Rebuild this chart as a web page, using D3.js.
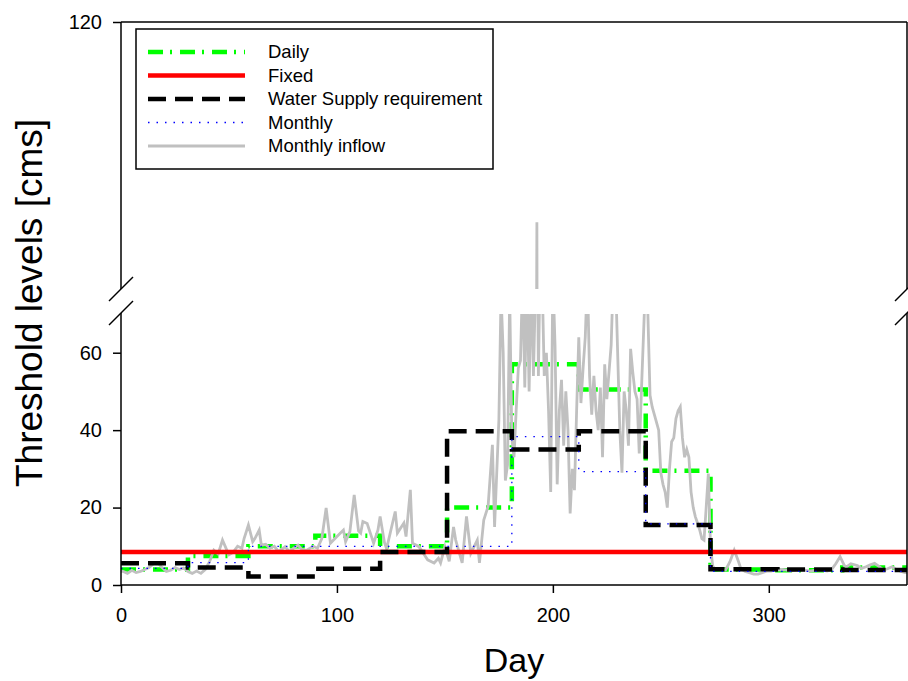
<!DOCTYPE html>
<html>
<head>
<meta charset="utf-8">
<script src="https://cdn.jsdelivr.net/npm/d3@7"></script>
<style>
  body { margin: 0; background: #fff; }
  svg { display: block; font-family: "Liberation Sans", Arial, sans-serif; }
</style>
</head>
<body>
<script>
const w = 908;
const h = 681;

// month boundaries (day of year) used by the step series
const monthStart = [0, 31, 59, 90, 120, 151, 181, 212, 243, 273, 304, 334];
const dailyLevel = [4, 7.5, 10, 12.7, 10, 20, 57, 50.5, 29.5, 4, 3.8, 4.5];
const monthlyLevel = [4.3, 5.8, 10, 10, 10, 10, 38.3, 29.3, 15.8, 3.5, 3.5, 3.5];
const supplyLevel = [5.6, 4.5, 2.2, 4.2, 8.5, 39.7, 35, 39.7, 15.5, 4.1, 4, 3.9];
const fixedLevel = 8.5;

// monthly inflow, [day, cms]
const inflow = [
  [0, 3.5], [1, 3.5], [3, 3], [5, 3.8], [7, 3.2], [9, 3.5], [11, 4], [13, 4.5], [15, 5.5], [17, 5.8],
  [19, 4.5], [21, 3.5], [23, 3.8], [25, 4.5], [27, 4], [29, 4.4], [31, 3.5], [33, 3], [35, 3.6],
  [37, 3], [39, 4], [41, 6], [43, 9], [45, 8], [47, 11.6], [49, 9], [50, 7.8], [52, 8.5], [54, 10],
  [56, 9.5], [57, 12], [59, 15.5], [61, 11.2], [62, 12], [64, 14.2], [65, 10.3], [67, 10.5],
  [69, 9.5], [71, 10], [73, 8.6], [76, 9.9], [78, 8.6], [80, 9.5], [82, 10.3], [84, 9], [86, 9],
  [89, 10], [91, 9.5], [93, 12], [95, 19.9], [97, 10.8], [100, 12.5], [103, 14.2], [104, 11.2],
  [106, 13.8], [108, 23.3], [110, 14], [111, 13.4], [112, 16.4], [114, 15.9], [116, 12.5],
  [117, 10.8], [119, 14.2], [120, 17.7], [122, 11], [123, 9.4], [125, 14.2], [127, 19], [128, 13.4],
  [131, 16], [132, 12.5], [134, 24.6], [135, 10.8], [138, 9.9], [140, 8.2], [142, 6.5], [145, 5.7],
  [147, 6.9], [148, 5.7], [150, 9.9], [152, 6.1], [154, 15], [155, 11.6], [158, 5.7], [160, 17.7],
  [162, 8.2], [165, 11.6], [166, 5.7], [168, 16.8], [170, 20.3], [172, 36.2], [173, 15], [175, 42.7],
  [176, 75], [177, 60], [178, 27], [179, 31], [180, 75], [181, 38], [182, 33], [183, 45], [184, 56],
  [185, 58], [186, 80], [187, 51], [188, 80], [189, 50], [190, 80], [191, 54], [192, 78], [192.6, 105],
  [193.3, 54], [194, 80], [195, 80], [196, 54], [197, 60], [198, 45], [199, 24], [200, 80], [201, 62],
  [202, 26], [203, 45], [204, 53], [205, 36], [206, 50], [207, 40], [208, 18.5], [209, 30],
  [210, 24.5], [211, 45], [212, 64], [213, 47], [214, 56], [215, 64], [216, 80], [217, 54], [218, 44],
  [219, 54], [220, 45], [221, 40], [222, 51], [223, 33], [224, 57], [225, 48], [226, 55], [227, 62],
  [228, 80], [229, 80], [230, 60], [231, 40], [232, 29], [233, 50], [234, 45], [235, 36], [236, 61],
  [237, 55], [238, 50], [239, 48], [240, 34], [241, 50], [242, 65], [243, 80], [244, 70], [245, 49],
  [246, 46], [247, 44], [248, 42], [249, 40], [250, 29], [251, 26], [252, 24], [253, 20], [254, 30],
  [255, 37], [256, 38], [257, 43], [258, 45], [259, 46], [260, 38], [261, 33], [262, 35], [263, 33],
  [264, 24], [265, 20], [266, 17.6], [267, 16], [268, 14.2], [269, 12], [270, 11.6], [271, 20],
  [272, 28.8], [273, 10], [274, 5], [275, 4], [277, 3.9], [280, 3.9], [282, 6], [284, 9], [286, 6],
  [287, 4.3], [289, 3.5], [291, 3.2], [293, 2.8], [295, 2.8], [297, 3.2], [299, 3.6], [301, 3.6],
  [303, 3.9], [306, 4], [308, 3.9], [310, 3.6], [313, 3.9], [316, 3.9], [319, 3.6], [321, 3.8],
  [324, 3.9], [327, 3.6], [329, 3.9], [331, 5.5], [333, 7.3], [335, 5], [336, 4.7], [338, 5.5],
  [341, 5], [343, 4.3], [345, 4.7], [347, 5.2], [349, 5.6], [351, 4.8], [353, 3.9], [355, 4.2],
  [357, 4.7], [359, 4], [361, 3.6], [363, 3.2], [364, 3.2]
];

const xTicks = [0, 100, 200, 300];
const lowTicks = [0, 20, 40, 60];
const highTicks = [120];

const left = 121, right = 907;
const lowTop = 314, lowBottom = 585;
const highTop = 22, highBottom = 289;

const svg = d3.select("body").append("svg").attr("width", w).attr("height", h);

const x = d3.scaleLinear().domain([0, 364]).range([left, right]);
const yLow = d3.scaleLinear().domain([0, 70]).range([lowBottom, lowTop]);
const yHigh = d3.scaleLinear().domain([100, 120]).range([highBottom, highTop]);

const defs = svg.append("defs");
defs.append("clipPath").attr("id", "clipLow")
  .append("rect").attr("x", left).attr("y", lowTop).attr("width", right - left).attr("height", lowBottom - lowTop);
defs.append("clipPath").attr("id", "clipHigh")
  .append("rect").attr("x", left).attr("y", highTop).attr("width", right - left).attr("height", highBottom - highTop);

function stepData(levels) {
  const pts = monthStart.map((d, i) => [d, levels[i]]);
  pts.push([364, levels[levels.length - 1]]);
  return pts;
}

const series = [
  { data: stepData(dailyLevel), color: "#00ff00", width: 4.5, dash: "15,7,2,8", step: true },
  { data: inflow, color: "#c0c0c0", width: 2.8, dash: null, step: false },
  { data: [[0, fixedLevel], [364, fixedLevel]], color: "#ff0000", width: 4.5, dash: null, step: false },
  { data: stepData(supplyLevel), color: "#000000", width: 4.5, dash: "18,9", step: true },
  { data: stepData(monthlyLevel), color: "#0000ff", width: 1.3, dash: "1.5,7", step: true }
];

function drawPanel(y, clipId) {
  const g = svg.append("g").attr("clip-path", `url(#${clipId})`);
  series.forEach((s) => {
    const line = d3.line()
      .x((d) => x(d[0]))
      .y((d) => y(d[1]))
      .curve(s.step ? d3.curveStepAfter : d3.curveLinear);
    g.append("path")
      .datum(s.data)
      .attr("d", line)
      .attr("fill", "none")
      .attr("stroke", s.color)
      .attr("stroke-width", s.width)
      .attr("stroke-dasharray", s.dash)
      .attr("stroke-linejoin", "miter");
  });
}
drawPanel(yLow, "clipLow");
drawPanel(yHigh, "clipHigh");

// axes
const xAxis = d3.axisBottom(x).tickValues(xTicks).tickSize(8).tickPadding(15);
const gx = svg.append("g").attr("transform", `translate(0,${lowBottom})`).call(xAxis);
const yAxisLow = d3.axisLeft(yLow).tickValues(lowTicks).tickSize(8).tickPadding(11);
const gyl = svg.append("g").attr("transform", `translate(${left},0)`).call(yAxisLow);
const yAxisHigh = d3.axisLeft(yHigh).tickValues(highTicks).tickSize(8).tickPadding(11);
const gyh = svg.append("g").attr("transform", `translate(${left},0)`).call(yAxisHigh);

[gx, gyl, gyh].forEach((g) => {
  g.select(".domain").remove();
  g.selectAll(".tick line").attr("stroke", "#000").attr("stroke-width", 1.5);
  g.selectAll(".tick text")
    .attr("fill", "#000")
    .style("font-size", "20px")
    .style("font-family", "'Liberation Sans', Arial, sans-serif");
});

// frame with axis breaks
const frame = svg.append("g").attr("stroke", "#000").attr("stroke-width", 1.5).attr("fill", "none");
frame.append("line").attr("x1", left).attr("x2", right).attr("y1", lowBottom).attr("y2", lowBottom);
frame.append("line").attr("x1", left).attr("x2", right).attr("y1", highTop).attr("y2", highTop);
[left, right].forEach((xx) => {
  frame.append("line").attr("x1", xx).attr("x2", xx).attr("y1", highTop).attr("y2", highBottom);
  frame.append("line").attr("x1", xx).attr("x2", xx).attr("y1", lowTop - 1).attr("y2", lowBottom);
  [highBottom, lowTop - 1].forEach((yy) => {
    frame.append("line")
      .attr("x1", xx - 12).attr("y1", yy + 12)
      .attr("x2", xx + 12).attr("y2", yy - 12);
  });
});

// axis titles
svg.append("text")
  .attr("x", 514).attr("y", 672)
  .attr("text-anchor", "middle")
  .style("font-size", "34px")
  .text("Day");
svg.append("text")
  .attr("transform", "translate(42,303) rotate(-90)")
  .attr("text-anchor", "middle")
  .style("font-size", "37px")
  .text("Threshold levels [cms]");

// legend
const legendItems = [
  { label: "Daily", color: "#00ff00", width: 4.5, dash: "15,7,2,8" },
  { label: "Fixed", color: "#ff0000", width: 4.5, dash: null },
  { label: "Water Supply requirement", color: "#000000", width: 4.5, dash: "18,9" },
  { label: "Monthly", color: "#0000ff", width: 1.3, dash: "1.5,7" },
  { label: "Monthly inflow", color: "#c0c0c0", width: 2.8, dash: null }
];
const legend = svg.append("g");
legend.append("rect")
  .attr("x", 136).attr("y", 29).attr("width", 357).attr("height", 140)
  .attr("fill", "#fff").attr("stroke", "#000").attr("stroke-width", 1.5);
legendItems.forEach((d, i) => {
  const yy = 52 + i * 23.5;
  legend.append("line")
    .attr("x1", 148).attr("x2", 245).attr("y1", yy).attr("y2", yy)
    .attr("stroke", d.color).attr("stroke-width", d.width)
    .attr("stroke-dasharray", d.dash);
  legend.append("text")
    .attr("x", 268).attr("y", yy).attr("dy", "0.35em")
    .style("font-size", "18.5px")
    .text(d.label);
});
</script>
</body>
</html>
